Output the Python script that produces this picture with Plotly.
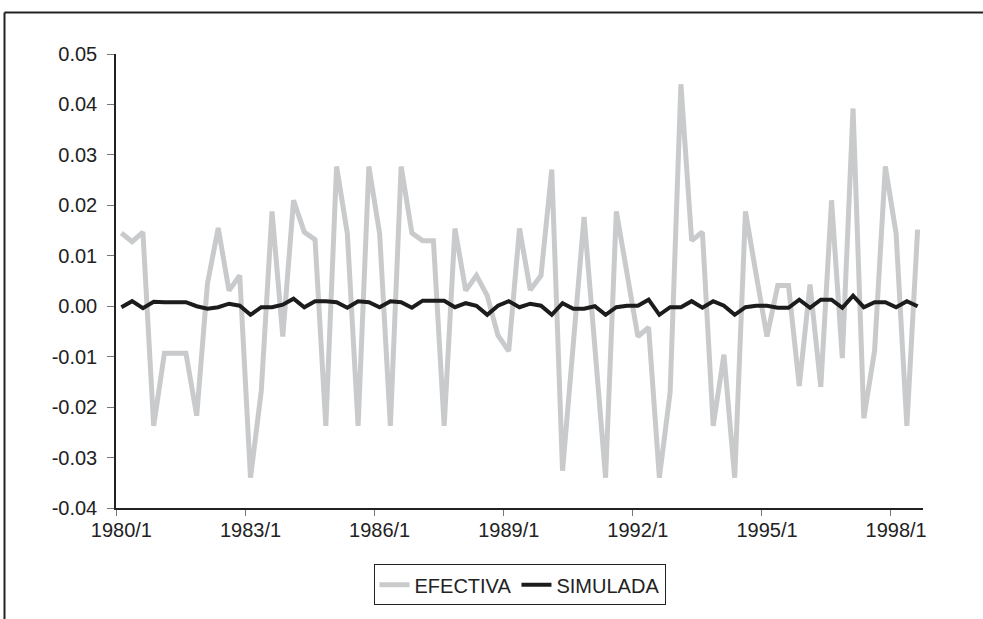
import plotly.graph_objects as go

# ---- data ----
years = list(range(1980, 1999))
periods = [f"{y}/{q}" for y in years for q in (1, 2, 3, 4)][:75]  # 1980/1 .. 1998/3

efectiva = [
    0.0145, 0.0128, 0.0147, -0.0237, -0.0093, -0.0093, -0.0093, -0.0217,
    0.0045, 0.0155, 0.0031, 0.0061, -0.0340, -0.0168, 0.0188, -0.0060,
    0.0210, 0.0147, 0.0132, -0.0237, 0.0277, 0.0144, -0.0237, 0.0277,
    0.0144, -0.0237, 0.0277, 0.0145, 0.0130, 0.0130, -0.0237, 0.0154,
    0.0031, 0.0061, 0.0021, -0.0058, -0.0089, 0.0154, 0.0032, 0.0061,
    0.0271, -0.0326, -0.0080, 0.0177, -0.0080, -0.0340, 0.0188, 0.0062,
    -0.0060, -0.0042, -0.0340, -0.0170, 0.0440, 0.0130, 0.0147, -0.0237,
    -0.0096, -0.0340, 0.0188, 0.0062, -0.0060, 0.0041, 0.0041, -0.0158,
    0.0043, -0.0160, 0.0210, -0.0103, 0.0392, -0.0222, -0.0088, 0.0277,
    0.0144, -0.0237, 0.0152,
]

simulada = [
    -0.0002, 0.0010, -0.0004, 0.0009, 0.0008, 0.0008, 0.0008, 0.0000,
    -0.0005, -0.0002, 0.0005, 0.0001, -0.0017, -0.0002, -0.0002, 0.0003,
    0.0015, -0.0002, 0.0010, 0.0010, 0.0008, -0.0003, 0.0010, 0.0008,
    -0.0002, 0.0010, 0.0008, -0.0003, 0.0011, 0.0011, 0.0011, -0.0002,
    0.0006, 0.0001, -0.0017, 0.0001, 0.0010, -0.0002, 0.0005, 0.0001,
    -0.0017, 0.0006, -0.0005, -0.0005, 0.0000, -0.0017, -0.0002, 0.0001,
    0.0001, 0.0013, -0.0017, -0.0002, -0.0002, 0.0010, -0.0003, 0.0010,
    0.0001, -0.0017, -0.0002, 0.0001, 0.0001, -0.0003, -0.0003, 0.0013,
    -0.0003, 0.0013, 0.0013, -0.0003, 0.0021, -0.0002, 0.0008, 0.0008,
    -0.0002, 0.0010, 0.0000,
]

y_ticks = [-0.04, -0.03, -0.02, -0.01, 0.00, 0.01, 0.02, 0.03, 0.04, 0.05]
y_tick_labels = ["-0.04", "-0.03", "-0.02", "-0.01", "0.00",
                 "0.01", "0.02", "0.03", "0.04", "0.05"]

FONT = "Liberation Sans, Arial, sans-serif"
FS = 20

fig = go.Figure()
fig.add_trace(go.Scatter(
    x=periods, y=efectiva, mode="lines", name="EFECTIVA",
    line=dict(color="#c9cacc", width=5),
))
fig.add_trace(go.Scatter(
    x=periods, y=simulada, mode="lines", name="SIMULADA",
    line=dict(color="#1c1c1c", width=4),
))

fig.update_layout(
    width=983, height=619,
    margin=dict(l=116, r=60, t=54, b=111),
    paper_bgcolor="white", plot_bgcolor="white",
    font=dict(family=FONT, size=FS, color="#222222"),
    showlegend=True,
    legend=dict(
        orientation="h", x=0.5, xanchor="center", y=-0.124, yanchor="top",
        bordercolor="#222222", borderwidth=1, bgcolor="white",
        font=dict(family=FONT, size=FS, color="#222222"),
        itemwidth=30, tracegroupgap=0,
    ),
    xaxis=dict(
        type="category", range=[-0.5, len(periods) - 0.5],
        tickmode="linear", tick0=0, dtick=12, tickson="boundaries",
        tickangle=0,
        ticks="outside", ticklen=6, tickcolor="#777777", tickwidth=1,
        showline=True, linecolor="#222222", linewidth=1.5,
        showgrid=False, zeroline=False, ticklabelstandoff=3,
    ),
    yaxis=dict(
        range=[-0.04, 0.05], tickmode="array",
        tickvals=y_ticks, ticktext=y_tick_labels,
        ticks="outside", ticklen=7, tickcolor="#777777", tickwidth=1,
        showline=True, linecolor="#222222", linewidth=1.5,
        showgrid=False, zeroline=False, ticklabelstandoff=6,
    ),
    shapes=[
        dict(type="line", xref="paper", yref="paper",
             x0=(4.5 - 116) / 807, x1=(990 - 116) / 807,
             y0=(508 - 12.5) / 454, y1=(508 - 12.5) / 454,
             line=dict(color="#222222", width=2)),
        dict(type="line", xref="paper", yref="paper",
             x0=(4.5 - 116) / 807, x1=(4.5 - 116) / 807,
             y0=(508 - 12.5) / 454, y1=(508 - 625) / 454,
             line=dict(color="#222222", width=2)),
    ],
)

fig.write_html("out.html")
